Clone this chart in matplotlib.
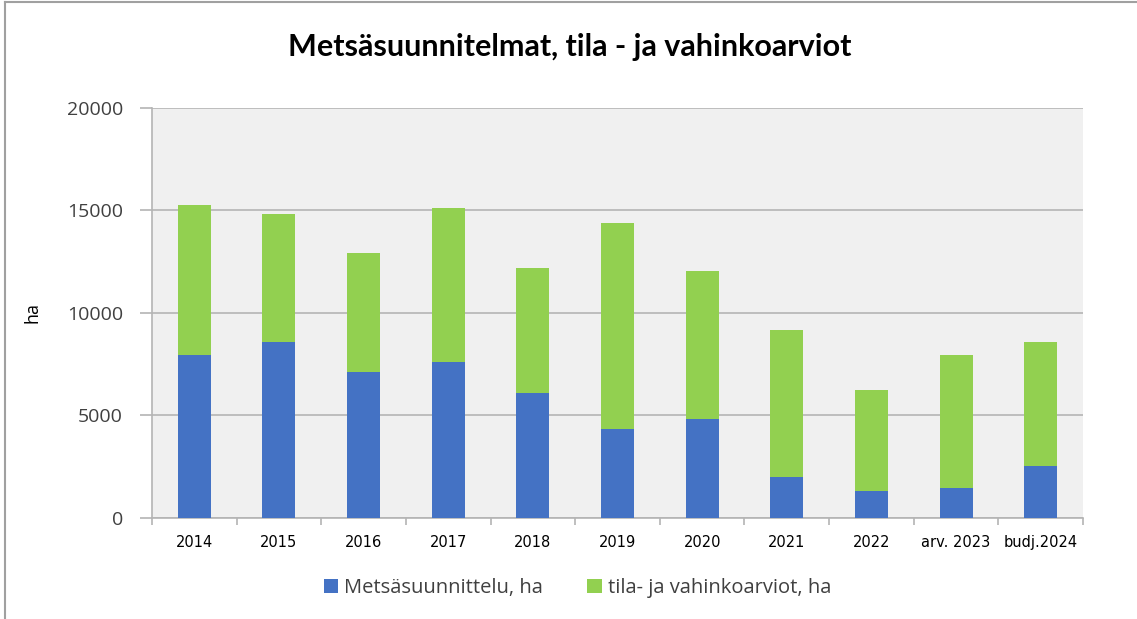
import matplotlib.pyplot as plt
import numpy as np

years = ["2014", "2015", "2016", "2017", "2018", "2019", "2020", "2021", "2022",
         "arv. 2023", "budj.2024"]
suunnittelu = [7950, 8590, 7120, 7610, 6100, 4340, 4830, 2000, 1320, 1460, 2540]
vahinko = [7320, 6240, 5810, 7510, 6100, 10050, 7220, 7170, 4920, 6490, 6050]

blue = "#4472C4"
green = "#92D050"
grid_c = "#b4b4b4"

fig = plt.figure(figsize=(11.37, 6.19), dpi=100)
ax = fig.add_axes([0.1337, 0.1632, 0.8188, 0.6624])
ax.set_facecolor("#f0f0f0")

x = np.arange(len(years))
ax.bar(x, suunnittelu, width=0.39, color=blue, label="Metsäsuunnittelu, ha", zorder=3)
ax.bar(x, vahinko, width=0.39, bottom=suunnittelu, color=green,
       label="tila- ja vahinkoarviot, ha", zorder=3)

ax.set_xlim(-0.5, len(years) - 0.5)
ax.set_ylim(0, 20000)
ax.set_yticks(range(0, 20001, 5000))
ax.yaxis.grid(True, color=grid_c, linewidth=1.2, zorder=0)

# tick marks sit between categories, labels at the centre
ax.set_xticks(np.arange(-0.5, len(years)), minor=False)
ax.set_xticklabels([])
ax.set_xticks(x, minor=True)
ax.set_xticklabels(years, minor=True, fontsize=10.5, family="Liberation Sans Narrow")
ax.tick_params(axis="x", which="minor", length=0, pad=12)
ax.tick_params(axis="x", which="major", length=5, color=grid_c, width=1.2)
ax.tick_params(axis="y", length=9, color=grid_c, width=1.2, labelsize=14, pad=12)
for lbl in ax.get_yticklabels():
    lbl.set_family("Open Sans")
    lbl.set_color("#404040")

for s in ["top", "right"]:
    ax.spines[s].set_visible(False)
for s in ["left", "bottom"]:
    ax.spines[s].set_color(grid_c)
    ax.spines[s].set_linewidth(1.2)

ax.set_ylabel("ha", fontsize=13, family="Open Sans", labelpad=18)

fig.suptitle("Metsäsuunnitelmat, tila - ja vahinkoarviot", x=0.501, y=0.947,
             fontsize=22, fontweight="bold", family="Lato")

fig.legend(loc="center", bbox_to_anchor=(0.508, 0.05), ncol=2, frameon=False,
           prop={"family": "Open Sans", "size": 14.5}, handlelength=0.7,
           handleheight=0.7, columnspacing=2.2, handletextpad=0.3,
           labelcolor="#404040")

# outer chart frame (left and top edge visible)
fig.add_artist(plt.Line2D([0.004, 0.004], [0, 0.997], color="#a0a0a0", lw=1.5))
fig.add_artist(plt.Line2D([0.004, 1], [0.997, 0.997], color="#a0a0a0", lw=1.5))

fig.savefig("out.png", dpi=100)
